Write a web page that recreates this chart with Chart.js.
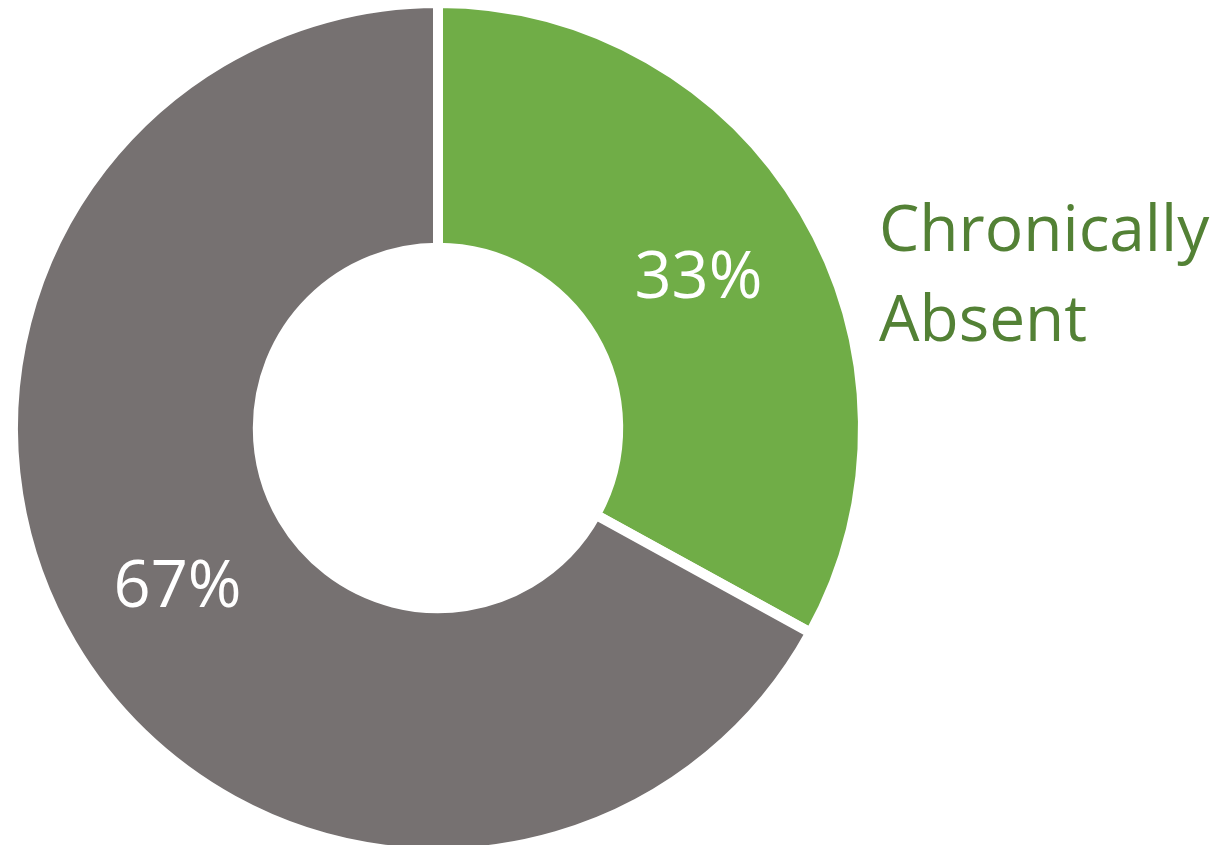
<!DOCTYPE html>
<html>
<head>
<meta charset="utf-8">
<script src="https://cdn.jsdelivr.net/npm/chart.js@4"></script>
<style>
    body { margin: 0; background: #fff; width: 1225px; height: 845px; overflow: hidden; position: relative; }
    #wrap { position: absolute; left: -2px; top: -12px; width: 880px; height: 880px; }
    #side { position: absolute; left: 879px; top: 182px; color: #538135;
        font-family: 'Open Sans', sans-serif; font-size: 64px; line-height: 90px; }
</style>
</head>
<body>
<div id="wrap"><canvas id="myChart"></canvas></div>
<div id="side">Chronically<br>Absent</div>
<script>
const labels = ['Chronically Absent', 'Not Chronically Absent'];
const values = [33, 67];
const colors = ['#70AD47', '#767171'];

// percent text in the middle of each ring slice
const pctLabels = {
    id: 'pctLabels',
    afterDatasetsDraw(chart) {
        const ctx = chart.ctx;
        const meta = chart.getDatasetMeta(0);
        ctx.save();
        ctx.fillStyle = '#fff';
        ctx.font = '65px "Open Sans"';
        ctx.textAlign = 'center';
        ctx.textBaseline = 'middle';
        meta.data.forEach((arc, i) => {
            const p = arc.tooltipPosition();
            ctx.fillText(values[i] + '%', p.x, p.y + 6);
        });
        ctx.restore();
    }
};

const data = {
    labels: labels,
    datasets: [{
        data: values,
        backgroundColor: colors,
        borderColor: '#fff',
        borderWidth: 10
    }]
};

const config = {
    type: 'doughnut',
    data: data,
    options: {
        responsive: true,
        maintainAspectRatio: false,
        animation: false,
        cutout: '42.4%',
        layout: { padding: 10 },
        plugins: {
            legend: { display: false },
            tooltip: { enabled: false }
        }
    },
    plugins: [pctLabels]
};

const ctx = document.getElementById('myChart');
chart = new Chart(ctx, config)
</script>
</body>
</html>
